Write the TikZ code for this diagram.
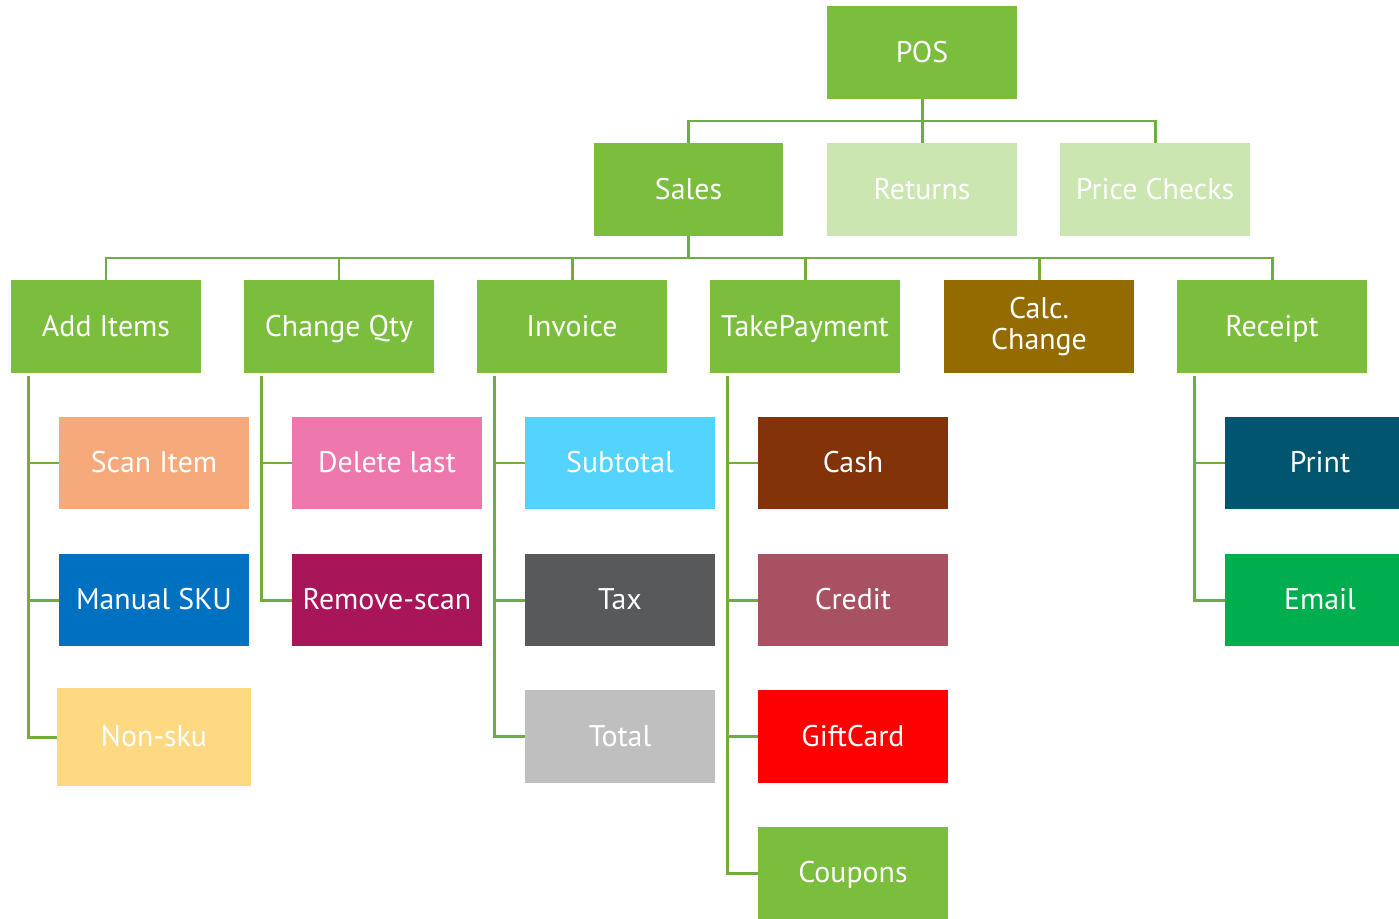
\documentclass[tikz,border=0pt]{standalone}
\usepackage{fontspec}
\setmainfont{PT Sans}
\usetikzlibrary{calc}

\definecolor{leaf}{HTML}{7BBD3D}
\definecolor{pale}{HTML}{CBE6B1}
\definecolor{wire}{HTML}{6FAD3F}
\definecolor{scanc}{HTML}{F6A97B}
\definecolor{deletec}{HTML}{EE77AE}
\definecolor{subc}{HTML}{53D3FE}
\definecolor{cashc}{HTML}{82330A}
\definecolor{printc}{HTML}{02556F}
\definecolor{skuc}{HTML}{0070C0}
\definecolor{removec}{HTML}{A81558}
\definecolor{taxc}{HTML}{58595B}
\definecolor{creditc}{HTML}{A85163}
\definecolor{emailc}{HTML}{00AE50}
\definecolor{nonskuc}{HTML}{FED981}
\definecolor{totalc}{HTML}{BFBFBF}
\definecolor{giftc}{HTML}{FE0000}
\definecolor{calcc}{HTML}{946B00}

\tikzset{
  box/.style={rectangle, fill=#1, text=white, minimum width=3.8cm, minimum height=1.86cm,
    inner sep=1pt, align=center, font=\fontsize{17}{17.5}\selectfont,
    text height=11pt, text depth=0pt},
  box/.default=leaf,
  link/.style={draw=wire, line width=1.7pt},
}

\begin{document}
\begin{tikzpicture}[x=0.02cm,y=-0.02cm]
\useasboundingbox (0,0) rectangle (1399,919);

% top
\node[box] (pos) at (922,52.5) {POS};

\node[box] (sales) at (688.5,189.5) {Sales};
\node[box=pale] (returns) at (922,189.5) {Returns};
\node[box=pale] (checks) at (1155,189.5) {Price Checks};

% sales steps
\node[box] (add) at (106,326.5) {Add Items};
\node[box] (change) at (339,326.5) {Change Qty};
\node[box] (invoice) at (572,326.5) {Invoice};
\node[box] (pay) at (805,326.5) {TakePayment};
\node[box=calcc, text height={}, text depth={}] (calc) at (1039,326.5) {Calc.\\Change};
\node[box] (receipt) at (1272,326.5) {Receipt};

% leaves
\node[box=scanc] (scan) at (154,463) {Scan Item};
\node[box=skuc] (sku) at (154,600) {Manual SKU};
\node[box=nonskuc, minimum width=3.88cm, minimum height=1.96cm] (nonsku) at (154,737) {Non-sku};

\node[box=deletec] (delete) at (387,463) {Delete last};
\node[box=removec] (remove) at (387,600) {Remove-scan};

\node[box=subc] (subtotal) at (620,463) {Subtotal};
\node[box=taxc] (tax) at (620,600) {Tax};
\node[box=totalc] (total) at (620,736.5) {Total};

\node[box=cashc] (cash) at (853,463) {Cash};
\node[box=creditc] (credit) at (853,600) {Credit};
\node[box=giftc] (gift) at (853,736.5) {GiftCard};
\node[box] (coupons) at (853,873) {Coupons};

\node[box=printc] (print) at (1320,463) {Print};
\node[box=emailc] (email) at (1320,600) {Email};

% connectors
\coordinate (topbar) at (922,121);
\coordinate (midbar) at (688,258);

\draw[link] (pos.south) -- (returns.north);
\draw[link] (sales.north) |- (topbar) -| (checks.north);

\draw[link] (sales.south) -- (sales.south |- midbar);
\draw[link] (add.north) |- (midbar) -| (receipt.north);
\foreach \n in {change,invoice,pay,calc}
  \draw[link] (\n.north) -- (\n.north |- midbar);

\foreach \p/\c in {add/scan, add/sku, add/nonsku, change/delete, change/remove,
    invoice/subtotal, invoice/tax, invoice/total, pay/cash, pay/credit, pay/gift,
    pay/coupons, receipt/print, receipt/email}
  \draw[link] ($(\p.south west)+(18,3)$) |- (\c.west);
\end{tikzpicture}
\end{document}
